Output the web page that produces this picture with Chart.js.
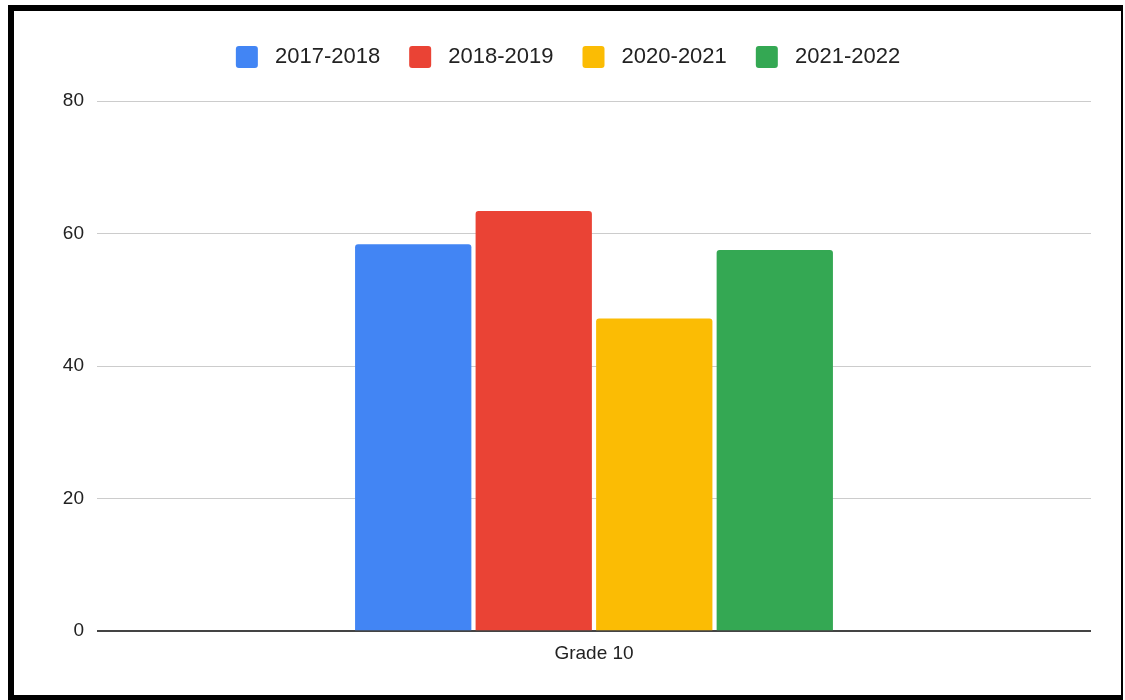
<!DOCTYPE html>
<html>
<head>
<meta charset="utf-8">
<script src="https://cdn.jsdelivr.net/npm/chart.js@4"></script>
<style>
  html, body { margin: 0; padding: 0; background: #fff; }
  #frame {
    position: absolute; left: 8px; top: 5px;
    width: 1107px; height: 684px;
    border-left: 6px solid #000; border-top: 6px solid #000;
    border-right: 2px solid #000; border-bottom: 5px solid #000;
  }
  #wrap { position: relative; width: 1107px; height: 684px; }
</style>
</head>
<body>
<div id="frame"><div id="wrap"><canvas id="gradeChart"></canvas></div></div>
<script>
// Chart data
var categories = ["Grade 10"];
var seriesNames = ["2017-2018", "2018-2019", "2020-2021", "2021-2022"];
var seriesValues = [[58.4], [63.4], [47.2], [57.5]];
var seriesColors = ["#4285F4", "#EA4335", "#FBBC04", "#34A853"];
var yTicks = [0, 20, 40, 60, 80];

var FONT = "Liberation Sans, Arial, sans-serif";

var datasets = seriesNames.map(function(name, i) {
  return {
    label: name,
    data: seriesValues[i],
    backgroundColor: seriesColors[i],
    borderRadius: 3,
    borderSkipped: "bottom",
    barPercentage: 0.965,
    categoryPercentage: 0.485
  };
});

// extra room below the legend
var legendSpace = {
  id: "legendSpace",
  beforeInit: function(chart) {
    var fit = chart.legend.fit;
    chart.legend.fit = function() {
      fit.bind(chart.legend)();
      this.height += 23;
    };
  }
};

var ctx = document.getElementById("gradeChart").getContext("2d");
var gradeChart = new Chart(ctx, {
  type: "bar",
  data: { labels: categories, datasets: datasets },
  plugins: [legendSpace],
  options: {
    responsive: true,
    maintainAspectRatio: false,
    animation: false,
    layout: { padding: { left: 31, right: 30, top: 6, bottom: 27 } },
    plugins: {
      legend: {
        position: "top",
        labels: {
          font: { family: FONT, size: 22 },
          color: "#222",
          boxWidth: 22,
          boxHeight: 22,
          useBorderRadius: true,
          borderRadius: 3,
          padding: 29,
          generateLabels: function(chart) {
            var items = Chart.defaults.plugins.legend.labels.generateLabels(chart);
            items.forEach(function(it) { it.text = " " + it.text; });
            return items;
          }
        }
      },
      tooltip: { enabled: false }
    },
    scales: {
      x: {
        grid: { display: false },
        border: { display: false },
        ticks: {
          font: { family: FONT, size: 19 },
          color: "#222",
          padding: 3
        }
      },
      y: {
        min: 0,
        max: 80,
        afterFit: function(scale) { scale.width = 52; },
        afterBuildTicks: function(scale) {
          scale.ticks = yTicks.map(function(v) { return { value: v }; });
        },
        border: { display: false },
        grid: {
          drawTicks: false,
          color: function(c) { return c.tick && c.tick.value === 0 ? "#444" : "#ccc"; },
          lineWidth: function(c) { return c.tick && c.tick.value === 0 ? 2 : 1; }
        },
        ticks: {
          font: { family: FONT, size: 19 },
          color: "#222",
          padding: 13
        }
      }
    }
  }
});
</script>
</body>
</html>
